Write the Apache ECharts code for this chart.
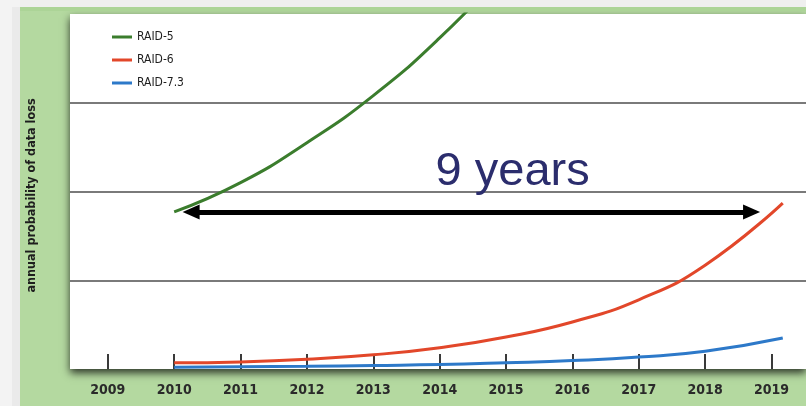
<!DOCTYPE html>
<html>
<head>
<meta charset="utf-8">
<style>html,body{margin:0;padding:0;background:#f1f1f1;}#c{width:806px;height:406px;}</style>
<script src="https://cdn.jsdelivr.net/npm/echarts@6/dist/echarts.min.js"></script>
</head>
<body>
<div id="c"></div>
<script>
var tickYears = [2009, 2010, 2011, 2012, 2013, 2014, 2015, 2016, 2017, 2018, 2019];
var seriesNames = ['RAID-5', 'RAID-6', 'RAID-7.3'];
var years5 = [2010, 2011, 2012, 2013, 2014, 2015];
var raid5 = [1.77, 2.10, 2.55, 3.08, 3.73, 4.5];
var yearsLate = [2010, 2011, 2012, 2013, 2014, 2015, 2016, 2017, 2018, 2019.17];
var raid6 = [0.07, 0.08, 0.11, 0.16, 0.24, 0.36, 0.53, 0.78, 1.17, 1.87];
var raid73 = [0.02, 0.025, 0.03, 0.04, 0.05, 0.07, 0.095, 0.135, 0.2, 0.35];
var gridLevels = [1, 2, 3];
var arrowSpan = [2010.255, 2018.70];
var arrowLevel = 1.77;
var annotation = {text: '9 years', x: 2015.1, y: 2.22};
var colors = ['#3b7d2d', '#e2472a', '#2d79c9'];

function pairs(xs, ys) { return xs.map(function (x, i) { return [x, ys[i]]; }); }

var chart = echarts.init(document.getElementById('c'), null, {renderer: 'canvas'});
var font = 'DejaVu Sans Condensed';
chart.setOption({
  backgroundColor: '#b4d9a0',
  animation: false,
  graphic: [
    {type: 'rect', shape: {x: 0, y: 0, width: 806, height: 7}, style: {fill: '#efefef'}},
    {type: 'rect', shape: {x: 0, y: 0, width: 20, height: 406}, style: {fill: '#f3f3f3'}},
    {type: 'rect', shape: {x: 12, y: 7, width: 8, height: 399}, style: {fill: '#eaeaea'}},
    {type: 'rect', shape: {x: 20, y: 7, width: 786, height: 4}, style: {fill: '#acd497'}}
  ],
  grid: {
    left: 70, right: 0, top: 14, bottom: 37,
    show: true, backgroundColor: '#ffffff', borderWidth: 0,
    shadowColor: 'rgba(0,0,0,0.75)', shadowBlur: 8, shadowOffsetY: 4
  },
  legend: {
    orient: 'vertical', left: 107, top: 26,
    itemWidth: 20, itemHeight: 3, itemGap: 11,
    textStyle: {fontFamily: font, fontSize: 12, color: '#1e1e1e'},
    data: seriesNames.map(function (n) { return {name: n, icon: 'rect'}; })
  },
  xAxis: {
    type: 'value', min: 2008.43, max: 2019.52,
    axisLine: {show: false},
    splitLine: {show: false},
    axisTick: {show: true, inside: true, length: 15, customValues: tickYears, lineStyle: {color: '#3a3a3a', width: 2}},
    axisLabel: {customValues: tickYears, formatter: function (v) { return String(v); }, margin: 14, fontFamily: font, fontWeight: 'bold', fontSize: 14, color: '#2a2a2a'}
  },
  yAxis: {
    type: 'value', min: 0, max: 4,
    axisLine: {show: false}, axisTick: {show: false}, axisLabel: {show: false}, splitLine: {show: false},
    name: 'annual probability of data loss', nameLocation: 'middle', nameGap: 32,
    nameTextStyle: {fontFamily: font, fontWeight: 'bold', fontSize: 12.5, color: '#1e1e1e', padding: [0, 8, 0, 0]}
  },
  series: [
    {
      name: seriesNames[0], type: 'line', smooth: true, symbol: 'none', clip: true,
      lineStyle: {width: 3, color: colors[0]}, itemStyle: {color: colors[0]},
      data: pairs(years5, raid5), z: 3,
      markLine: {
        silent: true, symbol: 'none', label: {show: false}, z: 1,
        lineStyle: {color: '#7a7a7a', width: 2, type: 'solid'},
        data: gridLevels.map(function (v) { return {yAxis: v}; })
      }
    },
    {
      name: seriesNames[1], type: 'line', smooth: true, symbol: 'none',
      lineStyle: {width: 3, color: colors[1]}, itemStyle: {color: colors[1]},
      data: pairs(yearsLate, raid6), z: 3,
      markLine: {
        silent: true, symbol: ['triangle', 'triangle'], symbolSize: [15, 17],
        label: {show: false}, z: 4,
        lineStyle: {color: '#000', width: 5, type: 'solid'},
        data: [[{coord: [arrowSpan[0], arrowLevel]}, {coord: [arrowSpan[1], arrowLevel]}]]
      },
      markPoint: {
        silent: true, symbol: 'circle', symbolSize: 0,
        label: {show: true, position: 'inside', formatter: annotation.text, fontFamily: 'Liberation Sans', fontSize: 47, color: '#2b2d6d'},
        data: [{coord: [annotation.x, annotation.y]}]
      }
    },
    {
      name: seriesNames[2], type: 'line', smooth: true, symbol: 'none',
      lineStyle: {width: 3, color: colors[2]}, itemStyle: {color: colors[2]},
      data: pairs(yearsLate, raid73), z: 3
    }
  ]
});
</script>
</body>
</html>
